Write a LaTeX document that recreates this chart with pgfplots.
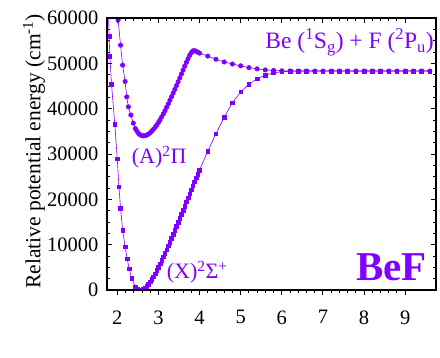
\documentclass[border=0pt]{standalone}
\usepackage{fontspec}
\setmainfont{Liberation Serif}
\usepackage{pgfplots}
\pgfplotsset{compat=1.18}
\definecolor{vio}{RGB}{127,0,255}
\begin{document}
\begin{tikzpicture}
\path[use as bounding box] (-107pt,-67pt) rectangle (333pt,290pt);
\begin{axis}[
  at={(0pt,0pt)}, anchor=south west,
  scale only axis, width=329pt, height=272pt,
  xmin=1.75, xmax=9.75, ymin=0, ymax=60000,
  xtick={2,3,4,5,6,7,8,9},
  ytick={0,10000,20000,30000,40000,50000,60000},
  minor x tick num=4, minor y tick num=3,
  xtick pos=left, xtick align=outside,
  ytick pos=both, ytick align=inside,
  major tick length=5pt, minor tick length=3pt,
  every tick/.style={black, line width=0.9pt},
  axis line style={line width=1.2pt},
  scaled y ticks=false,
  /pgf/number format/1000 sep={},
  /pgf/number format/assume math mode=true,
  tick label style={font=\fontsize{20.5}{24}\selectfont},
  xticklabel style={yshift=-12pt},
  yticklabel style={xshift=-5pt},
  ylabel={Relative potential energy (cm\textsuperscript{-1})},
  every axis y label/.style={at={(axis description cs:-0.222,0.51)}, rotate=90, anchor=center, font=\fontsize{21.5}{25}\selectfont},
  clip marker paths=true,
]
\addplot[color=vio, line width=0.6pt, mark=square*, mark size=1.8pt, mark options={fill=vio, draw=vio}] coordinates {
(1.785,61500) (1.80,56000) (1.82,51600) (1.86,45400) (1.94,36500) (2.00,28900)
(2.04,22800) (2.08,18000) (2.13,13200) (2.19,9550) (2.24,6900) (2.29,4700) (2.35,2580)
(2.44,700) (2.48,300) (2.52,70) (2.56,0) (2.60,60) (2.64,230) (2.68,500) (2.72,850)
(2.76,1280) (2.80,1780) (2.84,2340) (2.88,2950) (2.92,3600) (2.96,4290) (3.00,5000)
(3.04,5740) (3.08,6500) (3.12,7280) (3.16,8080) (3.20,8900) (3.24,9730) (3.28,10570)
(3.32,11420) (3.36,12280) (3.40,13150) (3.44,14030) (3.48,14920) (3.52,15820)
(3.56,16720) (3.60,17620) (3.64,18520) (3.68,19420) (3.72,20320) (3.76,21220)
(3.80,22120) (3.84,23000) (3.88,23870) (3.92,24730) (3.96,25580) (4.00,26420)
(4.2,30600) (4.4,34500) (4.6,38100) (4.8,41300) (5.0,43700) (5.2,45400) (5.4,46600)
(5.6,47400) (5.8,47900) (6.0,48150) (6.2,48250) (6.4,48300) (6.6,48300) (6.8,48300)
(7.0,48300) (7.2,48300) (7.4,48300) (7.6,48300) (7.8,48300) (8.0,48300) (8.2,48300)
(8.4,48300) (8.6,48300) (8.8,48300) (9.0,48300) (9.2,48300) (9.4,48300) (9.6,48300)
};
\addplot[color=vio, line width=0.6pt, mark=*, mark size=2.2pt, mark options={fill=vio, draw=vio}] coordinates {
(1.98,62500) (2.02,59600) (2.08,54000) (2.13,49600) (2.19,46000) (2.23,42600)
(2.27,40400) (2.33,38600) (2.39,36800)
(2.44,35600) (2.48,35000) (2.52,34500) (2.56,34200) (2.60,34050) (2.64,34000)
(2.68,34050) (2.72,34200) (2.76,34400) (2.80,34700) (2.84,35050) (2.88,35450)
(2.92,35900) (2.96,36400) (3.00,36950) (3.04,37550) (3.08,38200) (3.12,38850)
(3.16,39550) (3.20,40300) (3.24,41050) (3.28,41850) (3.32,42650) (3.36,43450)
(3.40,44250) (3.44,45100) (3.48,45950) (3.52,46800) (3.56,47650) (3.60,48500)
(3.64,49350) (3.68,50200) (3.72,51000) (3.76,51750) (3.80,52350) (3.84,52750)
(3.88,52800) (3.92,52650) (3.96,52450) (4.00,52250)
(4.2,51600) (4.4,50900) (4.6,50300) (4.8,49850) (5.0,49450) (5.2,49050) (5.4,48780)
(5.6,48550) (5.8,48420) (6.0,48350) (6.2,48320) (6.4,48300) (6.6,48300) (6.8,48300)
(7.0,48300) (7.2,48300) (7.4,48300) (7.6,48300) (7.8,48300) (8.0,48300) (8.2,48300)
(8.4,48300) (8.6,48300) (8.8,48300) (9.0,48300) (9.2,48300) (9.4,48300) (9.6,48300)
};
\node[anchor=base west, text=vio, font=\fontsize{22}{26}\selectfont, inner sep=0pt] at (axis cs:2.35,27800) {(A)\textsuperscript{2}Π};
\node[anchor=base west, text=vio, font=\fontsize{22}{26}\selectfont, inner sep=0pt] at (axis cs:3.20,2430) {(X)\textsuperscript{2}Σ\textsuperscript{+}};
\node[anchor=base east, text=vio, font=\fontsize{23.5}{28}\selectfont, inner sep=0pt] at (axis cs:9.70,53300) {Be (\textsuperscript{1}S\textsubscript{g}) + F (\textsuperscript{2}P\textsubscript{u})};
\node[anchor=base east, text=vio, font=\fontsize{41}{48}\selectfont\bfseries, inner sep=0pt] at (axis cs:9.53,2206) {BeF};
\end{axis}
\begin{axis}[
  at={(0pt,0pt)}, anchor=south west,
  scale only axis, width=329pt, height=272pt,
  xmin=1.75, xmax=9.75, ymin=0, ymax=60000,
  xtick={2,3,4,5,6,7,8,9}, minor x tick num=4,
  xtick pos=right, xtick align=inside, xticklabels={},
  ytick=\empty,
  major tick length=5pt, minor tick length=3pt,
  every tick/.style={black, line width=0.9pt},
  axis line style={line width=1.2pt},
]
\addplot[draw=none] coordinates {(2,0)};
\end{axis}
\end{tikzpicture}
\end{document}
